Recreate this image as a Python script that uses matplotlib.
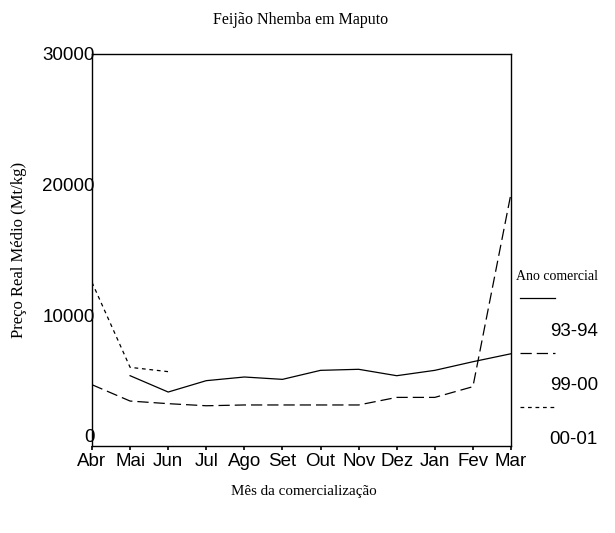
import matplotlib.pyplot as plt
from matplotlib.lines import Line2D
import numpy as np

meses = ['Abr', 'Mai', 'Jun', 'Jul', 'Ago', 'Set', 'Out', 'Nov', 'Dez', 'Jan', 'Fev', 'Mar']
# NaN = sem dados
s9394 = [np.nan, 5380, 4130, 5000, 5280, 5100, 5790, 5870, 5380, 5790, 6450, 7060]
s9900 = [4690, 3440, 3240, 3080, 3140, 3140, 3140, 3140, 3720, 3720, 4540, 19330]
s0001 = [12520, 6020, 5690] + [np.nan] * 9
anos = ['93-94', '99-00', '00-01']

serif = 'Liberation Serif'
sans = 'Liberation Sans'
estilos = ['-', (0, (9, 4)), (0, (3, 3))]

fig = plt.figure(figsize=(6.15, 5.33), dpi=100)
ax = fig.add_axes([92/615, 1-446/533, (511-92)/615, (446-54)/533])

x = np.arange(len(meses))
for serie, ls in zip([s9394, s9900, s0001], estilos):
    ax.plot(x, serie, color='black', lw=0.9, linestyle=ls)

ax.set_xlim(0, 11)
ax.set_ylim(0, 30000)
ax.set_xticks(x)
ax.set_xticklabels(meses, fontfamily=sans, fontsize=13.5)
ax.set_yticks([0, 10000, 20000, 30000])
ax.set_yticklabels(['0', '10000', '20000', '30000'], fontfamily=sans, fontsize=13.5)
ax.tick_params(axis='y', length=0, pad=-2)
ax.tick_params(axis='x', length=3, width=1.2, pad=2)
# o "0" fica acima do eixo, como no original
ax.get_yticklabels()[0].set_verticalalignment('bottom')
for sp in ax.spines.values():
    sp.set_linewidth(1.0)

fig.text(301/615, 1-20/533, 'Feijão Nhemba em Maputo', fontfamily=serif, fontsize=11.5,
         ha='center', va='center')
fig.text(304/615, 1-492/533, 'Mês da comercialização', fontfamily=serif, fontsize=10.8,
         ha='center', va='center')
fig.text(19/615, 1-250/533, 'Preço Real Médio (Mt/kg)', fontfamily=serif, fontsize=12,
         ha='center', va='center', rotation=90)

# legenda manual à direita
fig.text(516/615, 1-276/533, 'Ano comercial', fontfamily=serif, fontsize=10,
         ha='left', va='center')
for i, (ano, ls) in enumerate(zip(anos, estilos)):
    yl = 298 + i * 54.5
    fig.add_artist(Line2D([520/615, 555/615], [1-yl/533, 1-yl/533], color='black',
                          lw=0.9, linestyle=ls))
    fig.text(598/615, 1-(yl+33)/533, ano, fontfamily=sans, fontsize=13.5,
             ha='right', va='center')

fig.savefig('out.png', dpi=100)
